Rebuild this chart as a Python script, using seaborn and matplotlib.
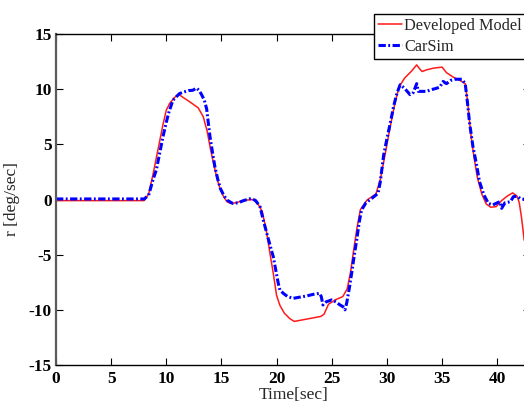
import numpy as np
import pandas as pd
import matplotlib
matplotlib.use("Agg")
import matplotlib.pyplot as plt
import seaborn as sns

# ---- data ----
dev_t = [0, 8.0, 8.4, 8.8, 9.3, 9.7, 10.0, 10.3, 10.7, 11.1, 11.6, 12.2, 12.9, 13.35,
         13.7, 14.0, 14.3, 14.6, 14.9, 15.2, 15.5, 15.8, 16.3, 16.8, 17.3, 17.9, 18.3,
         18.7, 19.1, 19.4, 19.7, 20.0, 20.3, 20.7, 21.2, 21.6, 22.4, 23.2, 24.0, 24.3,
         24.7, 25.3, 26.0, 26.4, 26.7, 27.0, 27.3, 27.6, 28.2, 29.0, 29.4, 29.8, 30.3,
         30.7, 31.1, 31.6, 32.2, 32.7, 33.0, 33.2, 33.6, 34.2, 35.0, 35.4, 36.0, 36.6,
         37.1, 37.3, 37.6, 37.9, 38.2, 38.6, 39.0, 39.4, 39.9, 40.4, 40.9, 41.4, 41.8,
         42.0, 42.2, 42.45]
dev_r = [-0.1, -0.1, 0.5, 2.3, 4.8, 6.8, 8.1, 8.7, 9.2, 9.55, 9.2, 8.8, 8.3, 7.5,
         6.2, 4.6, 3.2, 1.9, 0.9, 0.25, -0.2, -0.35, -0.3, -0.15, -0.05, 0.0, -0.4,
         -1.1, -3.0, -4.9, -6.7, -8.7, -9.6, -10.3, -10.8, -11.05, -10.9, -10.75, -10.6, -10.4,
         -9.5, -9.1, -8.8, -8.1, -6.6, -4.5, -2.5, -0.9, -0.05, 0.5, 1.8, 3.9, 6.6,
         8.6, 10.2, 11.0, 11.6, 12.2, 11.8, 11.6, 11.75, 11.9, 12.0, 11.5, 11.1, 10.8,
         10.5, 9.0, 6.0, 3.8, 2.0, 0.5, -0.4, -0.7, -0.65, -0.1, 0.3, 0.6, 0.3,
         -0.3, -1.6, -3.7]

cs_t = [0, 8.0, 8.4, 8.8, 9.1, 9.4, 9.7, 10.0, 10.2, 10.6, 11.2, 11.6, 12.0, 12.4,
        12.75, 13.0, 13.2, 13.45, 13.66, 13.8, 13.96, 14.2, 14.4, 14.65, 14.9, 15.2,
        15.5, 16.0, 16.5, 17.0, 17.7, 18.1, 18.5, 18.8, 19.2, 19.7, 20.15, 20.3, 20.6,
        21.0, 21.5, 22.1, 22.7, 23.3, 23.9, 24.05, 24.2, 24.5, 25.0, 25.4, 25.75, 26.0,
        26.2, 26.35, 26.6, 26.8, 27.05, 27.26, 27.5, 27.7, 28.1, 28.5, 29.2, 29.4, 29.7,
        30.0, 30.3, 30.6, 30.9, 31.2, 31.6, 32.1, 32.4, 32.7, 32.85, 33.6, 34.0, 34.5,
        34.8, 35.1, 35.4, 35.8, 36.2, 36.8, 37.1, 37.3, 37.5, 37.8, 38.1, 38.4, 38.8,
        39.2, 39.6, 40.0, 40.25, 40.4, 40.7, 41.2, 41.46, 41.8, 42.07, 42.5]
cs_r = [0.05, 0.05, 0.4, 1.8, 2.7, 4.2, 5.7, 7.0, 7.8, 9.0, 9.6, 9.75, 9.87, 9.9,
        10.1, 9.85, 9.5, 9.0, 8.2, 7.0, 5.7, 4.2, 3.0, 1.9, 1.0, 0.4,
        -0.05, -0.35, -0.3, -0.1, 0.1, -0.1, -0.65, -1.9, -3.4, -5.2, -7.6, -8.2, -8.5,
        -8.8, -8.96, -8.85, -8.75, -8.6, -8.5, -8.8, -9.56, -9.27, -9.1, -9.3, -9.56, -9.7,
        -10.0, -9.4, -8.0, -6.7, -5.0, -3.67, -2.0, -0.95, -0.3, 0.0, 0.56, 1.6, 4.0,
        5.5, 6.9, 8.4, 9.6, 10.4, 10.08, 9.5, 9.7, 10.5, 9.8, 9.8, 9.95, 10.08,
        10.2, 10.7, 10.5, 10.8, 10.9, 10.9, 10.5, 8.8, 6.9, 4.8, 3.3, 1.6, 0.4,
        -0.35, -0.5, -0.3, -0.2, -0.8, -0.3, -0.2, 0.25, 0.3, 0.1, 0.0]

series_labels = ["Developed Model", "CarSim"]
x_ticks = [0, 5, 10, 15, 20, 25, 30, 35, 40]
y_ticks = [-15, -10, -5, 0, 5, 10, 15]

# ---- style ----
sns.set_style("ticks")
plt.rcParams['font.family'] = ['Liberation Serif', 'DejaVu Serif']
plt.rcParams['axes.unicode_minus'] = False

fig = plt.figure(figsize=(5.24, 4.03), dpi=100)
ax = fig.add_axes([56 / 524, 38 / 403, 474.3 / 524, 331 / 403])

sns.lineplot(x=dev_t, y=dev_r, ax=ax, color="#ff1a1a", linewidth=1.1,
             label=series_labels[0], sort=False, estimator=None)
sns.lineplot(x=cs_t, y=cs_r, ax=ax, color="#0000ff", linewidth=2.2,
             linestyle=(0, (2.4, 0.8, 0.6, 0.8)),
             label=series_labels[1], sort=False, estimator=None)

ax.set_xlim(0, 43)
ax.set_ylim(-15, 15)
ax.set_xticks(x_ticks)
ax.set_yticks(y_ticks)
ax.set_xticklabels([str(v) for v in x_ticks], fontweight="bold", fontsize=12.5)
ax.set_yticklabels([str(v) for v in y_ticks], fontweight="bold", fontsize=12.5)
ax.tick_params(direction="in", top=True, right=True, length=5, width=0.8,
               colors="black")
ax.tick_params(axis="x", pad=4)
ax.tick_params(axis="y", pad=3)

for s in ax.spines.values():
    s.set_color("black")
    s.set_linewidth(1.0)
ax.spines["left"].set_color("#5a5a5a")
ax.spines["left"].set_linewidth(1.6)

ax.set_xlabel("Time[sec]", fontsize=12.5, labelpad=0)
ax.set_ylabel("r [deg/sec]", fontsize=12.5, labelpad=6)

leg = ax.legend(loc="upper left", bbox_to_anchor=(374 / 524, 1 - 14 / 403),
                bbox_transform=fig.transFigure, borderaxespad=0,
                fontsize=11.7, frameon=True, fancybox=False, framealpha=1,
                edgecolor="black", borderpad=0.25, labelspacing=0.3,
                handlelength=1.5, handletextpad=0.1)
leg.get_frame().set_linewidth(1.0)

fig.savefig("out.png", dpi=100)
